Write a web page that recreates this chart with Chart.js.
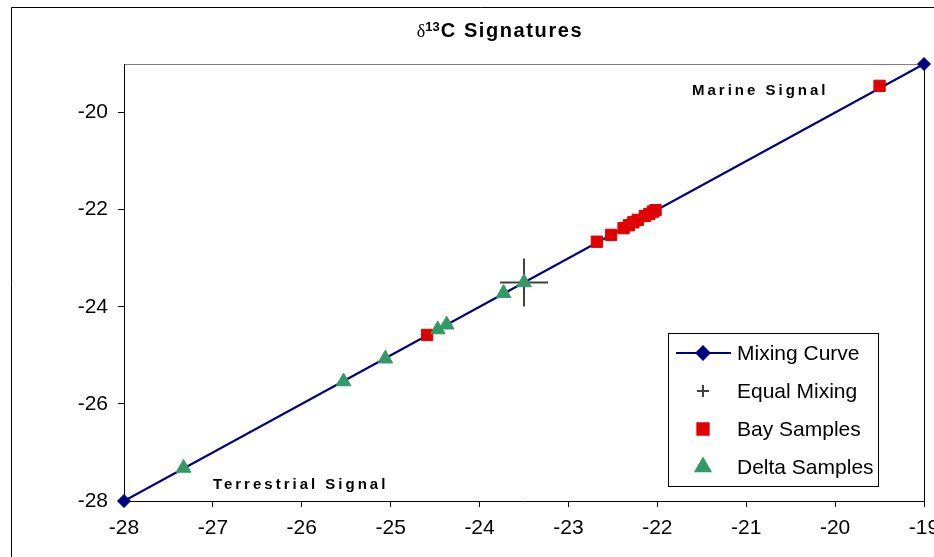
<!DOCTYPE html>
<html>
<head>
<meta charset="utf-8">
<script src="https://cdn.jsdelivr.net/npm/chart.js@4.4.1/dist/chart.umd.min.js"></script>
<style>
  html, body { margin: 0; padding: 0; background: #fff; overflow: hidden; }
  /* the canvas runs a little past the frame so the last x label is cut at the edge */
  #wrap { width: 934px; height: 557px; overflow: hidden; }
</style>
</head>
<body>
<div id="wrap"><canvas id="chart" width="950" height="557"></canvas></div>
<script>
// end members: terrestrial (-28) to marine (-19)
const mixX = [-28, -19];
const mixY = [-28, -19];

// 50:50 mixing point
const equalX = [-23.5];
const equalY = [-23.5];

// bay samples
const bayX = [-24.59, -22.68, -22.52, -22.38, -22.32, -22.27, -22.22, -22.14, -22.09, -22.05, -22.02, -19.50];
const bayY = [-24.58, -22.66, -22.52, -22.38, -22.32, -22.26, -22.21, -22.13, -22.09, -22.04, -22.01, -19.45];

// delta samples
const deltaX = [-27.33, -25.53, -25.06, -24.47, -24.37, -23.73, -23.50];
const deltaY = [-27.32, -25.54, -25.07, -24.47, -24.37, -23.72, -23.50];

const xTicks = [-28, -27, -26, -25, -24, -23, -22, -21, -20, -19];
const yTicks = [-28, -26, -24, -22, -20];

const FONT = "'Liberation Sans', Arial, sans-serif";
const NAVY = '#000080';
const RED = '#e00000';
const GREEN = '#339966';
const GREY = '#404040';

const pts = (xs, ys) => xs.map((x, i) => ({ x: x, y: ys[i] }));

// outer frame + plot area edges
const framePlugin = {
  id: 'frame',
  beforeDraw(chart) {
    const ctx = chart.ctx;
    const a = chart.chartArea;
    ctx.save();
    ctx.fillStyle = '#fff';
    ctx.fillRect(0, 0, chart.width, chart.height);
    ctx.lineWidth = 1;
    ctx.strokeStyle = '#000';
    ctx.beginPath();
    ctx.moveTo(11.5, chart.height);
    ctx.lineTo(11.5, 7.5);
    ctx.lineTo(chart.width, 7.5);
    ctx.stroke();
    ctx.strokeStyle = '#808080';
    ctx.beginPath();
    ctx.moveTo(a.left, a.top + 0.5);
    ctx.lineTo(a.right, a.top + 0.5);
    ctx.stroke();
    ctx.strokeStyle = '#000';
    ctx.beginPath();
    ctx.moveTo(a.right + 0.5, a.top);
    ctx.lineTo(a.right + 0.5, a.bottom);
    ctx.stroke();
    ctx.restore();
  }
};

// title with the delta symbol and superscript, plus the two end-member labels
const textPlugin = {
  id: 'texts',
  afterDraw(chart) {
    const ctx = chart.ctx;
    const xs = chart.scales.x, ys = chart.scales.y;
    ctx.save();
    ctx.fillStyle = '#000';
    ctx.textBaseline = 'alphabetic';
    ctx.textAlign = 'left';

    const partA = '\u03b4', partB = '13', partC = 'C Signatures';
    ctx.font = "18px 'Liberation Serif', serif";
    const wA = ctx.measureText(partA).width;
    ctx.font = 'bold 13px ' + FONT;
    const wB = ctx.measureText(partB).width;
    ctx.font = 'bold 20px ' + FONT;
    ctx.letterSpacing = '1.6px';
    const wC = ctx.measureText(partC).width;
    let tx = 500 - (wA + wB + 1 + wC) / 2;
    ctx.letterSpacing = '0px';
    ctx.font = "18px 'Liberation Serif', serif";
    ctx.fillText(partA, tx, 37);
    tx += wA;
    ctx.font = 'bold 13px ' + FONT;
    ctx.fillText(partB, tx, 31);
    tx += wB + 1;
    ctx.font = 'bold 20px ' + FONT;
    ctx.letterSpacing = '1.6px';
    ctx.fillText(partC, tx, 37);

    ctx.font = 'bold 15px ' + FONT;
    ctx.letterSpacing = '3px';
    ctx.fillText('Marine Signal', xs.getPixelForValue(-21.61), ys.getPixelForValue(-19.64));
    ctx.fillText('Terrestrial Signal', xs.getPixelForValue(-27.0), ys.getPixelForValue(-27.75));
    ctx.restore();
  }
};

// boxed legend inside the lower right of the plot
const legendPlugin = {
  id: 'boxLegend',
  afterDraw(chart) {
    const ctx = chart.ctx;
    const box = { left: 668, top: 333, width: 210, height: 153 };
    const rows = [353, 391, 429, 467];
    const markX = 703;
    ctx.save();
    ctx.fillStyle = '#fff';
    ctx.fillRect(box.left, box.top, box.width, box.height);
    ctx.strokeStyle = '#000';
    ctx.lineWidth = 1;
    ctx.strokeRect(box.left + 0.5, box.top + 0.5, box.width, box.height);

    chart.data.datasets.forEach((ds, i) => {
      const y = rows[i];
      if (ds.showLine) {
        ctx.strokeStyle = ds.borderColor;
        ctx.lineWidth = ds.borderWidth;
        ctx.beginPath();
        ctx.moveTo(676, y);
        ctx.lineTo(731, y);
        ctx.stroke();
      }
      ctx.fillStyle = ds.pointBackgroundColor;
      ctx.strokeStyle = ds.pointBorderColor;
      Chart.helpers.drawPoint(ctx, {
        pointStyle: ds.pointStyle,
        radius: ds.legendRadius,
        rotation: 0,
        borderWidth: ds.pointBorderWidth
      }, markX, y);
      ctx.fillStyle = '#000';
      ctx.font = '21px ' + FONT;
      ctx.textBaseline = 'middle';
      ctx.fillText(ds.label, 737, y + 1);
    });
    ctx.restore();
  }
};

new Chart(document.getElementById('chart'), {
  type: 'scatter',
  data: {
    datasets: [
      {
        label: 'Mixing Curve',
        data: pts(mixX, mixY),
        showLine: true,
        clip: false,
        borderColor: NAVY,
        borderWidth: 2,
        pointStyle: 'rectRot',
        pointRadius: 6.5,
        legendRadius: 6.5,
        pointBackgroundColor: NAVY,
        pointBorderColor: NAVY,
        pointBorderWidth: 1,
        order: 4
      },
      {
        label: 'Equal Mixing',
        data: pts(equalX, equalY),
        showLine: false,
        pointStyle: 'cross',
        pointRadius: 24,
        legendRadius: 6,
        pointBackgroundColor: GREY,
        pointBorderColor: GREY,
        pointBorderWidth: 2,
        order: 3
      },
      {
        label: 'Bay Samples',
        data: pts(bayX, bayY),
        showLine: false,
        clip: false,
        pointStyle: 'rect',
        pointRadius: 8,
        legendRadius: 8,
        pointBackgroundColor: RED,
        pointBorderColor: RED,
        pointBorderWidth: 1,
        order: 2
      },
      {
        label: 'Delta Samples',
        data: pts(deltaX, deltaY),
        showLine: false,
        pointStyle: 'triangle',
        pointRadius: 8.5,
        legendRadius: 8.5,
        pointBackgroundColor: GREEN,
        pointBorderColor: GREEN,
        pointBorderWidth: 1,
        order: 1
      }
    ]
  },
  options: {
    responsive: false,
    animation: false,
    events: [],
    layout: { padding: { top: 64, right: 0, bottom: 0, left: 0 } },
    plugins: {
      legend: { display: false },
      title: { display: false },
      tooltip: { enabled: false }
    },
    scales: {
      x: {
        type: 'linear',
        min: -28,
        max: -19,
        afterBuildTicks: s => { s.ticks = xTicks.map(v => ({ value: v })); },
        afterFit: s => { s.height = 56; },
        ticks: {
          autoSkip: false,
          maxRotation: 0,
          padding: 9,
          color: '#000',
          font: { family: FONT, size: 21 },
          callback: v => String(v)
        },
        grid: { drawOnChartArea: false, tickLength: 6, tickColor: '#000', tickWidth: 1 },
        border: { color: '#000', width: 1 }
      },
      y: {
        type: 'linear',
        min: -28,
        max: -19,
        afterBuildTicks: s => { s.ticks = yTicks.map(v => ({ value: v })); },
        afterFit: s => { s.width = 124; },
        ticks: {
          autoSkip: false,
          padding: 10,
          color: '#000',
          font: { family: FONT, size: 21 },
          callback: v => String(v)
        },
        grid: { drawOnChartArea: false, tickLength: 6, tickColor: '#000', tickWidth: 1 },
        border: { color: '#000', width: 1 }
      }
    }
  },
  plugins: [framePlugin, textPlugin, legendPlugin]
});
</script>
</body>
</html>
